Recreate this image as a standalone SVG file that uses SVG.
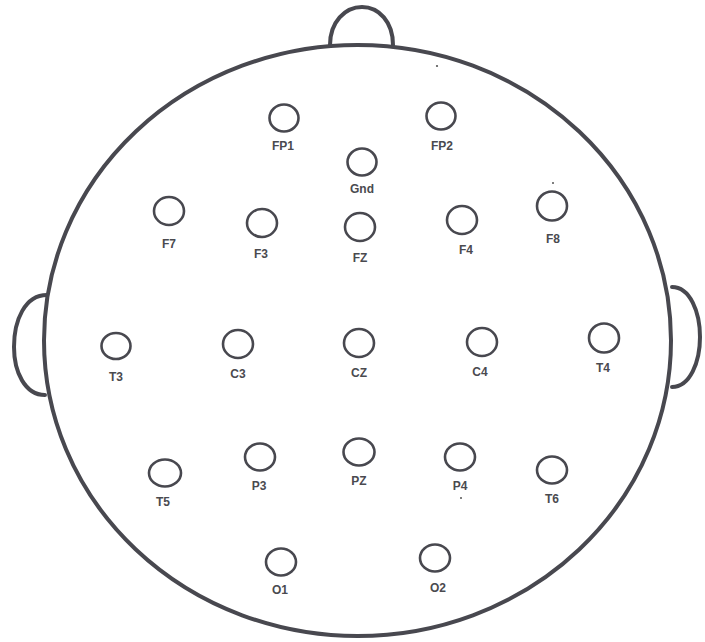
<svg xmlns="http://www.w3.org/2000/svg" width="705" height="642" viewBox="0 0 705 642">
<style>
.head{fill:none;stroke:#48484f;stroke-width:4;stroke-linecap:round;stroke-linejoin:round}
.el{fill:none;stroke:#48484f;stroke-width:2.6}
.lb{font-family:"Liberation Sans",Arial,sans-serif;font-size:12px;font-weight:bold;fill:#4a4a4f;text-anchor:middle}
.dot{fill:#555}
</style>
<rect width="705" height="642" fill="#fff"/>
<g id="head">
<path class="head" d="M330,45 C330,22 345,7 362,7 C379,7 393,22 393,45"/>
<path class="head" d="M47,295 C25,295 14,320 14,347 C14,372 25,395 45,395"/>
<path class="head" d="M672,287 C690,287 700,312 700,337 C700,362 690,387 672,387"/>
<ellipse class="head" cx="357.5" cy="340.5" rx="313.5" ry="295.5"/>
</g>
<g id="connectors"></g>
<g id="FP1"><ellipse class="el" cx="284" cy="118" rx="14.5" ry="13.5"/><text class="lb" x="283" y="150">FP1</text></g>
<g id="FP2"><ellipse class="el" cx="441" cy="116" rx="14.5" ry="13.5"/><text class="lb" x="442" y="150">FP2</text></g>
<g id="Gnd"><ellipse class="el" cx="362" cy="162" rx="14.5" ry="13.5"/><text class="lb" x="362" y="193">Gnd</text></g>
<g id="F7"><ellipse class="el" cx="169" cy="211" rx="15" ry="14"/><text class="lb" x="169" y="248">F7</text></g>
<g id="F3"><ellipse class="el" cx="262" cy="223" rx="15" ry="14"/><text class="lb" x="261" y="258">F3</text></g>
<g id="FZ"><ellipse class="el" cx="360" cy="227" rx="15" ry="14"/><text class="lb" x="360" y="262">FZ</text></g>
<g id="F4"><ellipse class="el" cx="462" cy="220" rx="15" ry="14"/><text class="lb" x="466" y="254">F4</text></g>
<g id="F8"><ellipse class="el" cx="552" cy="206" rx="15" ry="14.5"/><text class="lb" x="553" y="243">F8</text></g>
<g id="T3"><ellipse class="el" cx="116" cy="346" rx="14.5" ry="13"/><text class="lb" x="116" y="381">T3</text></g>
<g id="C3"><ellipse class="el" cx="238" cy="344" rx="15" ry="14"/><text class="lb" x="238" y="378">C3</text></g>
<g id="CZ"><ellipse class="el" cx="359" cy="343" rx="15" ry="14"/><text class="lb" x="359" y="377">CZ</text></g>
<g id="C4"><ellipse class="el" cx="482" cy="342" rx="15" ry="14"/><text class="lb" x="480" y="376">C4</text></g>
<g id="T4"><ellipse class="el" cx="604" cy="338" rx="15" ry="14.5"/><text class="lb" x="603" y="372">T4</text></g>
<g id="T5"><ellipse class="el" cx="165" cy="473" rx="16" ry="13.5"/><text class="lb" x="163" y="506">T5</text></g>
<g id="P3"><ellipse class="el" cx="260" cy="457" rx="15" ry="13.5"/><text class="lb" x="259" y="490">P3</text></g>
<g id="PZ"><ellipse class="el" cx="359" cy="452" rx="15.5" ry="13.5"/><text class="lb" x="359" y="485">PZ</text></g>
<g id="P4"><ellipse class="el" cx="460" cy="457" rx="15" ry="13.5"/><text class="lb" x="460" y="490">P4</text></g>
<g id="T6"><ellipse class="el" cx="552" cy="470" rx="15" ry="13.5"/><text class="lb" x="552" y="503">T6</text></g>
<g id="O1"><ellipse class="el" cx="281" cy="562" rx="15" ry="13.5"/><text class="lb" x="280" y="594">O1</text></g>
<g id="O2"><ellipse class="el" cx="435" cy="558" rx="15" ry="13.5"/><text class="lb" x="438" y="592">O2</text></g>
<g id="specks">
<circle class="dot" cx="437" cy="66" r="1.1"/>
<circle class="dot" cx="553" cy="183" r="1"/>
<circle class="dot" cx="461" cy="498" r="1"/>
</g>
</svg>
